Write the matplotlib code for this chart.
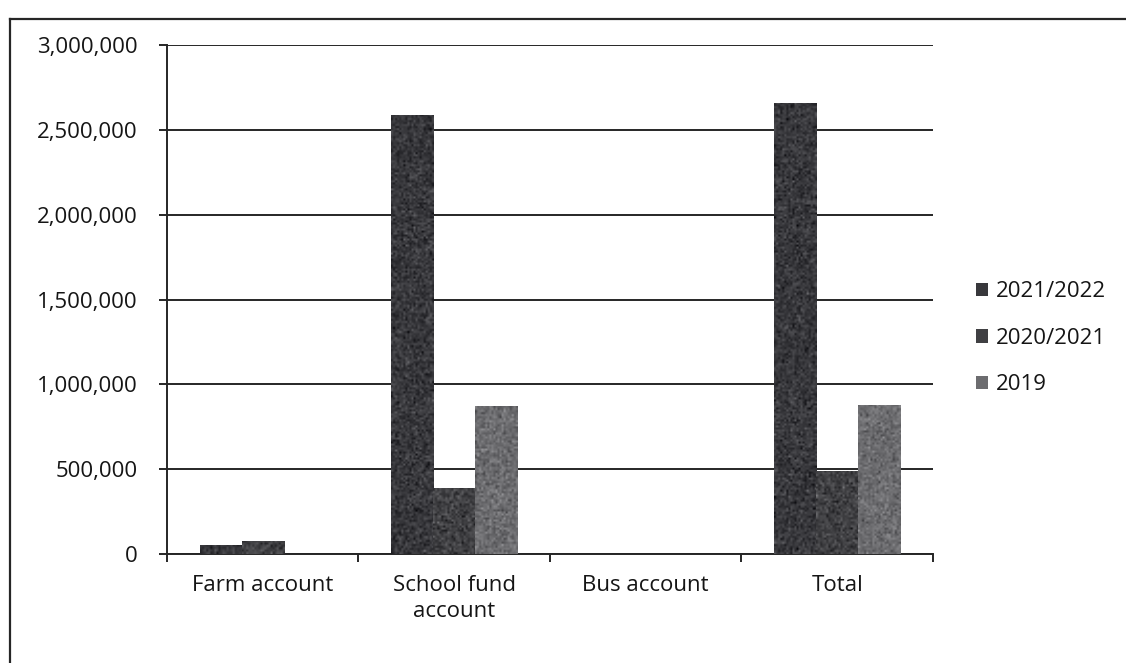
import matplotlib
matplotlib.use("Agg")
import matplotlib.pyplot as plt
from matplotlib.lines import Line2D
from matplotlib.ticker import FuncFormatter
import matplotlib.colors as mcolors
import numpy as np

categories = ["Farm account", "School fund\naccount", "Bus account", "Total"]
series_names = ["2021/2022", "2020/2021", "2019"]
values_2021_2022 = [55000, 2590000, 0, 2660000]
values_2020_2021 = [78000, 390000, 0, 490000]
values_2019 = [0, 870000, 0, 880000]
y_ticks = [0, 500000, 1000000, 1500000, 2000000, 2500000, 3000000]

series = [values_2021_2022, values_2020_2021, values_2019]
colors = ["#38383c", "#404043", "#6c6c6f"]
ink = "#151515"

plt.rcParams["font.family"] = ["Open Sans", "DejaVu Sans"]

fig = plt.figure(figsize=(11.26, 6.63), dpi=100)
ax = fig.add_axes([0.1483, 0.1644, 0.8286 - 0.1483, 0.932 - 0.1644])

x = np.arange(len(categories))
width = 0.22
ymax = 3000000
ax_h_px = (0.932 - 0.1644) * 663
bar_w_px = width * (0.8286 - 0.1483) * 1126 / len(categories)
rng = np.random.default_rng(7)
for i, (name, vals, col) in enumerate(zip(series_names, series, colors)):
    bars = ax.bar(x + (i - 1) * width, vals, width=width, color=col, label=name,
                  zorder=3, linewidth=0)
    # print-grain texture inside each bar, roughly 2px speckles
    base = np.array(mcolors.to_rgb(col))
    for b in bars:
        h = b.get_height()
        if h <= 0:
            continue
        rows = max(int(h / ymax * ax_h_px / 2), 2)
        cols = max(int(bar_w_px / 2), 2)
        grain = rng.normal(0, 0.06, size=(rows, cols))
        img = np.clip(base[None, None, :] + grain[:, :, None], 0, 1)
        im = ax.imshow(img, extent=(b.get_x(), b.get_x() + b.get_width(), 0, h),
                       aspect="auto", interpolation="bilinear", zorder=4)
        im.set_clip_path(b)

ax.set_xlim(-0.5, len(categories) - 0.5)
ax.set_ylim(0, ymax)
ax.set_yticks(y_ticks)
ax.yaxis.set_major_formatter(FuncFormatter(lambda v, p: f"{int(v):,}"))
ax.grid(axis="y", color="#262626", linewidth=1.4, zorder=1)
ax.set_axisbelow(True)

# category boundaries carry the tick marks, centres carry the labels
ax.set_xticks(np.arange(-0.5, len(categories), 1.0))
ax.set_xticklabels([])
ax.set_xticks(x, minor=True)
ax.set_xticklabels(categories, minor=True, linespacing=1.35)
ax.tick_params(axis="x", which="major", length=6, width=1.4, color="#262626")
ax.tick_params(axis="x", which="minor", length=0, pad=15, labelsize=16,
               labelcolor=ink)
ax.tick_params(axis="y", length=6, width=1.4, color="#262626", pad=15,
               labelsize=16, labelcolor=ink)

for side in ["top", "right"]:
    ax.spines[side].set_visible(False)
for side in ["left", "bottom"]:
    ax.spines[side].set_color("#262626")
    ax.spines[side].set_linewidth(1.4)

leg = ax.legend(loc="center left", bbox_to_anchor=(1.03, 0.424), frameon=False,
                fontsize=16, handlelength=0.55, handleheight=0.55,
                handletextpad=0.35, labelspacing=1.15)
for t in leg.get_texts():
    t.set_color(ink)

# outer chart frame
W, H = 1126, 663
fig.add_artist(Line2D([10 / W, 1.0], [1 - 19 / H, 1 - 19 / H],
                      transform=fig.transFigure, color="#262626", linewidth=1.6))
fig.add_artist(Line2D([10 / W, 10 / W], [1 - 19 / H, 0.0],
                      transform=fig.transFigure, color="#262626", linewidth=1.6))

fig.savefig("out.png", dpi=100)
